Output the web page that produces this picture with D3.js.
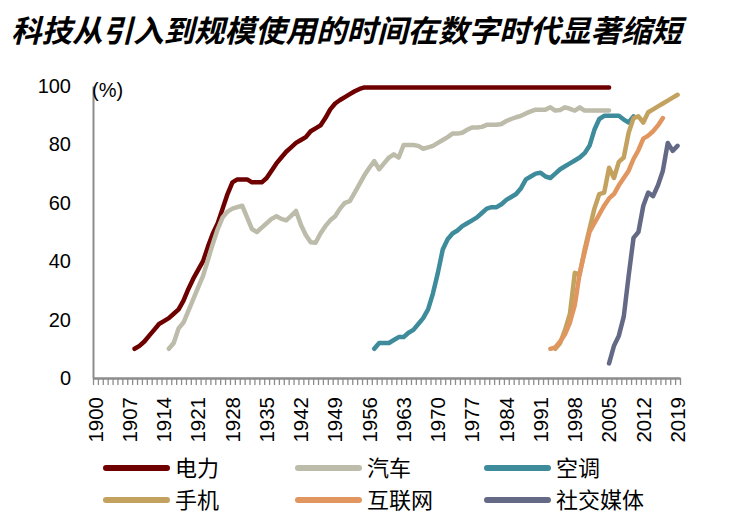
<!DOCTYPE html>
<html>
<head>
<meta charset="utf-8">
<script src="https://cdn.jsdelivr.net/npm/d3@7"></script>
<style>
  html, body { margin: 0; padding: 0; background: #fff; }
  svg { display: block; }
</style>
</head>
<body>
<svg id="chart" width="730" height="532"></svg>
<script>
// ---------- data ----------
const title = "科技从引入到规模使用的时间在数字时代显著缩短";
const firstYear = 1900, lastYear = 2019;
const tickLabels = ["1900","1907","1914","1921","1928","1935","1942","1949","1956","1963","1970","1977","1984","1991","1998","2005","2012","2019"];
const yTicks = [0, 20, 40, 60, 80, 100];

const seriesNames = ["电力", "汽车", "空调", "手机", "互联网", "社交媒体"];
const seriesStart = [1908, 1915, 1957, 1994, 1993, 2005];

const electricity = [10, 11, 12.5, 14.5, 16.5, 18.5, 19.5, 20.5, 22, 23.5,
  26.5, 30.5, 34, 37, 40, 45, 49.5, 53, 58, 63,
  67, 68, 68, 68, 67, 67, 67, 68.5, 71, 73.5,
  75.5, 77.5, 79, 80.5, 81.5, 82.5, 84.5, 85.5, 86.5, 89,
  92, 94, 95.2, 96.2, 97.2, 98.2, 99, 99.5,
  99.5, 99.5, 99.5, 99.5, 99.5, 99.5, 99.5, 99.5, 99.5, 99.5,
  99.5, 99.5, 99.5, 99.5, 99.5, 99.5, 99.5, 99.5, 99.5, 99.5,
  99.5, 99.5, 99.5, 99.5, 99.5, 99.5, 99.5, 99.5, 99.5, 99.5,
  99.5, 99.5, 99.5, 99.5, 99.5, 99.5, 99.5, 99.5, 99.5, 99.5,
  99.5, 99.5, 99.5, 99.5, 99.5, 99.5, 99.5, 99.5, 99.5, 99.5];

const cars = [10, 12, 17, 19, 23, 27, 31, 35, 40.5, 46,
  51, 55, 57, 58, 58.5, 59, 55, 51, 50, 51.5,
  53, 54.5, 55.4, 54.5, 54, 55.5, 57.2, 52.5, 49, 46.5,
  46.3, 49.5, 52, 54, 55.4, 58, 60, 60.6, 63.5, 66.5,
  69.5, 72, 74.3, 71.5, 73.5, 75.5, 76.6, 75.5, 79.8, 79.8,
  79.8, 79.5, 78.5, 79, 79.5, 80.5, 81.5, 82.5, 83.7, 83.7,
  84, 85, 85.8, 85.8, 86, 86.7, 86.7, 86.7, 87, 88,
  88.7, 89.3, 89.8, 90.6, 91.3, 91.9, 91.9, 91.9, 92.7, 91.6,
  91.8, 92.7, 92.2, 91.6, 92.7, 91.6, 91.6, 91.6, 91.6, 91.6, 91.6];

const airConditioning = [10, 12, 12, 12, 13, 14, 14, 15.5, 16.5, 18.5,
  20.5, 23.5, 29, 36, 44, 47.5, 49.5, 50.5, 52, 53,
  54, 55, 56.5, 58, 58.5, 58.5, 59.5, 61, 62, 63,
  65, 68, 69, 70, 70.3, 69, 68.5, 70, 71.5, 72.5,
  73.5, 74.5, 75.5, 77, 79.5, 85, 88.7, 89.8, 89.8, 89.8,
  89.8, 88.5, 87.5, 89.6];

const mobile = [10, 12, 16.5, 22, 36, 35.5, 44, 51, 58, 63,
  63.5, 72, 68.5, 74, 75.5, 84, 89, 89.6, 87.5, 91,
  92, 93, 94, 95, 96, 97];

const internet = [10, 10.5, 12.5, 15, 19, 25, 36, 43, 50, 53,
  56, 59, 61.5, 63, 66, 68.5, 71, 75, 78, 82,
  83, 84.5, 86.5, 89];

const socialMedia = [5, 11, 14.5, 21, 35, 48, 50, 59, 63.5, 62.3,
  66, 71, 80.5, 77.8, 79.5];

const seriesValues = [electricity, cars, airConditioning, mobile, internet, socialMedia];
const seriesColors = ["#6E0000", "#BDBBA9", "#3E8B9C", "#C2A25E", "#E0965E", "#646A86"];

// ---------- chart ----------
(function () {
const svg = d3.select("#chart");
const cjk = "'Noto Sans CJK SC', 'Noto Sans', sans-serif";
const latin = "'Liberation Sans', Arial, sans-serif";
const axisColor = "#8C8C8C";

const plotLeft = 93, plotRight = 680, plotTop = 86, plotBottom = 378;

const years = d3.range(firstYear, lastYear + 1);
const x = d3.scaleBand().domain(years).range([plotLeft, plotRight]).padding(0);
const xEdge = d3.scaleLinear().domain([firstYear, lastYear + 1]).range([plotLeft, plotRight]);
const y = d3.scaleLinear().domain([0, 100]).range([plotBottom, plotTop]);
const xc = yr => x(yr) + x.bandwidth() / 2;

// title
svg.append("text")
  .attr("x", 11).attr("y", 42)
  .attr("font-family", cjk)
  .attr("font-size", 30.5)
  .attr("font-style", "italic")
  .attr("font-weight", 700)
  .attr("fill", "#000")
  .text(title);

// y axis
const yAxis = d3.axisLeft(y).tickValues(yTicks).tickSize(0).tickPadding(22);
const gy = svg.append("g").attr("transform", `translate(${plotLeft},0)`).call(yAxis);
gy.select(".domain").attr("stroke", axisColor).attr("stroke-width", 2);
gy.selectAll("text").attr("font-family", latin).attr("font-size", 20).attr("fill", "#000");

// "(%)"
svg.append("text")
  .attr("x", 92).attr("y", 97)
  .attr("font-family", latin).attr("font-size", 20).attr("fill", "#000")
  .text("(%)");

// x axis: boundary ticks
const xTickAxis = d3.axisBottom(xEdge)
  .tickValues(d3.range(firstYear, lastYear + 2))
  .tickFormat("").tickSize(7).tickSizeOuter(0);
const gxt = svg.append("g").attr("transform", `translate(0,${plotBottom})`).call(xTickAxis);
gxt.select(".domain").attr("stroke", axisColor).attr("stroke-width", 2.5);
gxt.selectAll(".tick line").attr("stroke", axisColor).attr("stroke-width", 1.3);

// x axis labels
const xLabelAxis = d3.axisBottom(x).tickValues(tickLabels.map(Number)).tickSize(0).tickPadding(0);
const gxl = svg.append("g").attr("transform", `translate(0,${plotBottom})`).call(xLabelAxis);
gxl.select(".domain").remove();
gxl.selectAll("text")
  .attr("font-family", latin).attr("font-size", 20.5).attr("fill", "#000")
  .attr("transform", "rotate(-90)")
  .attr("text-anchor", "end")
  .attr("dy", "0.35em")
  .attr("x", -19).attr("y", 0);

// lines
const line = d3.line().x(d => xc(d.year)).y(d => y(d.value)).curve(d3.curveLinear);
seriesValues.forEach((vals, i) => {
  const pts = vals.map((v, k) => ({ year: seriesStart[i] + k, value: v }));
  svg.append("path")
    .datum(pts)
    .attr("d", line)
    .attr("fill", "none")
    .attr("stroke", seriesColors[i])
    .attr("stroke-width", 4.5)
    .attr("stroke-linejoin", "round")
    .attr("stroke-linecap", "round");
});

// legend
const legendCols = [106, 298, 487];
const legendRows = [468, 500];
seriesNames.forEach((name, i) => {
  const lx = legendCols[i % 3], ly = legendRows[Math.floor(i / 3)];
  const g = svg.append("g");
  g.append("line")
    .attr("x1", lx).attr("x2", lx + 61).attr("y1", ly).attr("y2", ly)
    .attr("stroke", seriesColors[i]).attr("stroke-width", 6).attr("stroke-linecap", "round");
  g.append("text")
    .attr("x", lx + 69).attr("y", ly)
    .attr("dy", "0.36em")
    .attr("font-family", cjk).attr("font-size", 22).attr("fill", "#000")
    .text(name);
});
})();
</script>
</body>
</html>
